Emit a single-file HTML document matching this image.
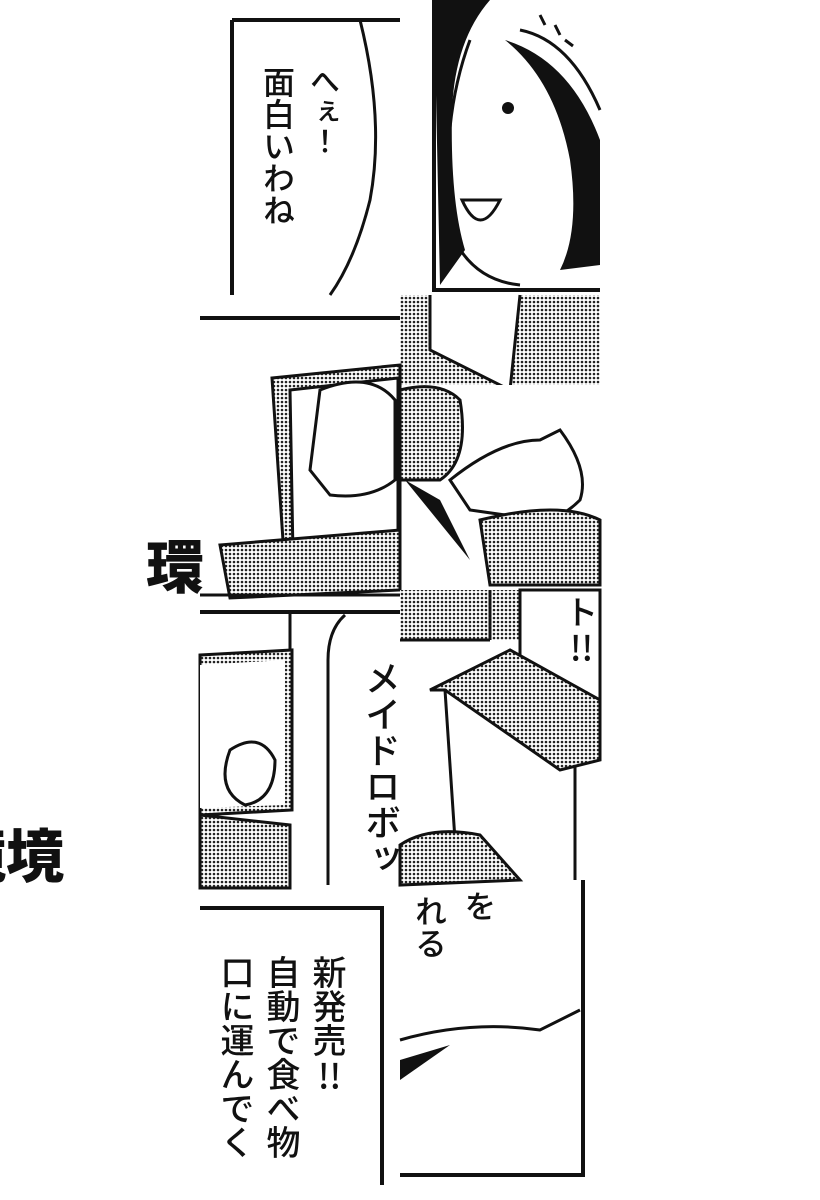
<!DOCTYPE html>
<html><head><meta charset="utf-8"><style>
html,body{margin:0;padding:0;background:#fff;}
body{width:820px;height:1200px;position:relative;overflow:hidden;font-family:"Liberation Sans","Noto Sans CJK JP",sans-serif;}
.v{position:absolute;writing-mode:vertical-rl;color:#111;font-family:"Noto Sans CJK JP",sans-serif;font-weight:500;}
.tcy{text-combine-upright:all;}
</style></head><body>
<svg width="820" height="1200" style="position:absolute;left:0;top:0">
<defs>
<pattern id="dt" width="4" height="4" patternUnits="userSpaceOnUse"><rect width="4" height="4" fill="#fff"/><circle cx="2" cy="2" r="1.3" fill="#222"/></pattern>
</defs>
<g stroke="#111" stroke-width="4" fill="none">
<path d="M232 20 L400 20 M232 20 L232 295"/>
<path d="M360 20 Q385 120 370 200 Q355 260 330 295" stroke-width="3"/>
<path d="M434 0 L434 290 L600 290"/>
<path d="M520 30 Q570 40 600 110" stroke-width="3"/>
<path d="M470 40 Q440 120 450 230 Q470 280 520 285" stroke-width="3"/>
<path d="M540 15 l5 10 M555 25 l5 10 M565 40 l8 6" stroke-width="3"/>
</g>
<path d="M434 0 L490 0 Q455 40 452 110 Q450 200 465 250 L440 285 Z" fill="#111"/>
<path d="M505 40 Q555 80 570 160 Q580 230 560 270 L600 265 L600 140 Q570 60 505 40Z" fill="#111"/>
<circle cx="508" cy="108" r="6" fill="#111"/>
<path d="M462 200 Q480 240 500 200 Z" fill="#fff" stroke="#111" stroke-width="3"/>
<rect x="400" y="295" width="200" height="90" fill="url(#dt)"/>
<path d="M430 295 L430 350 L510 390 L520 295" fill="#fff" stroke="#111" stroke-width="3"/>
<rect x="400" y="385" width="200" height="200" fill="#fff"/>
<path d="M400 390 Q440 380 460 400 Q470 460 440 480 L400 480Z" fill="url(#dt)" stroke="#111" stroke-width="3"/>
<path d="M450 480 Q500 440 540 440 L560 430 Q590 470 580 500 Q560 520 540 520 L470 510Z" fill="#fff" stroke="#111" stroke-width="3"/>
<path d="M480 520 Q560 500 600 520 L600 585 L490 585Z" fill="url(#dt)" stroke="#111" stroke-width="3"/>
<path d="M405 480 L470 560 L440 500 Z" fill="#111"/>
<path d="M200 318 L400 318" stroke="#111" stroke-width="4"/>
<path d="M272 378 L400 365 L400 560 L285 570 Z" fill="url(#dt)" stroke="#111" stroke-width="3"/>
<path d="M290 390 L398 378 L398 545 L293 555 Z" fill="#fff" stroke="#111" stroke-width="3"/>
<path d="M320 390 Q370 370 395 400 L395 480 Q370 500 330 495 L310 470 Z" fill="#fff" stroke="#111" stroke-width="3"/>
<path d="M220 545 L400 530 L400 590 L230 598 Z" fill="url(#dt)" stroke="#111" stroke-width="3"/>
<path d="M200 595 L400 595" stroke="#111" stroke-width="3"/>
<path d="M200 612 L400 612" stroke="#111" stroke-width="4"/>
<path d="M200 655 L292 650 L292 810 L200 815 Z" fill="url(#dt)" stroke="#111" stroke-width="3"/>
<path d="M200 665 L285 660 L285 805 L200 808 Z" fill="#fff"/>
<path d="M230 750 Q260 730 275 760 Q275 800 245 805 Q215 790 230 750Z" fill="#fff" stroke="#111" stroke-width="3"/>
<path d="M200 815 L290 825 L290 888 L200 888 Z" fill="url(#dt)" stroke="#111" stroke-width="3"/>
<path d="M290 612 L290 650 M345 615 Q328 630 328 660 L328 885" stroke="#111" stroke-width="3" fill="none"/>
<rect x="400" y="590" width="200" height="50" fill="url(#dt)"/>
<path d="M490 590 L490 640 M400 640 L490 640" stroke="#111" stroke-width="3"/>
<path d="M520 590 L520 690 Q530 720 560 730 L600 730 L600 590 Z" stroke="#111" stroke-width="3" fill="#fff"/>
<path d="M430 690 L510 650 L600 700 L600 760 L560 770 L445 690Z" fill="url(#dt)" stroke="#111" stroke-width="3"/>
<path d="M445 690 L455 840 M575 765 L575 880" stroke="#111" stroke-width="3"/>
<path d="M400 845 Q430 825 480 835 L520 880 L400 885Z" fill="url(#dt)" stroke="#111" stroke-width="3"/>
<path d="M200 908 L382 908 L382 1185" stroke="#111" stroke-width="4" fill="none"/>
<path d="M583 880 L583 1175 L400 1175" stroke="#111" stroke-width="4" fill="none"/>
<path d="M400 1040 Q470 1020 540 1030 L580 1010" stroke="#111" stroke-width="3" fill="none"/>
<path d="M400 1060 L450 1045 L400 1080Z" fill="#111"/>
</svg>
<div class="v" style="left:260px;top:66px;font-size:32px;line-height:38px;height:240px;">面白いわね</div>
<div class="v" style="left:306px;top:66px;font-size:30px;line-height:38px;">へぇ！</div>
<div style="position:absolute;left:146px;top:533px;font-size:58px;font-weight:900;font-family:'Noto Sans CJK JP',sans-serif;line-height:60px;color:#111">環</div>
<div style="position:absolute;left:0;top:822px;width:70px;height:70px;overflow:hidden;">
<div style="position:absolute;left:-52px;top:0;width:130px;font-size:58px;font-weight:900;font-family:'Noto Sans CJK JP',sans-serif;line-height:60px;color:#111;white-space:nowrap">境境</div>
</div>
<div class="v" style="left:364px;top:660px;font-size:36px;line-height:38px;">メイドロボッ</div>
<div class="v" style="left:562px;top:595px;font-size:34px;line-height:38px;">ト<span class="tcy">!!</span></div>
<div class="v" style="left:462px;top:890px;font-size:32px;line-height:36px;">を</div>
<div class="v" style="left:413px;top:895px;font-size:32px;line-height:36px;">れる</div>
<div class="v" style="left:310px;top:955px;font-size:34px;line-height:38px;">新発売<span class="tcy">!!</span></div>
<div class="v" style="left:264px;top:955px;font-size:34px;line-height:38px;">自動で食べ物</div>
<div class="v" style="left:218px;top:955px;font-size:34px;line-height:38px;">口に運んでく</div>
</body></html>
